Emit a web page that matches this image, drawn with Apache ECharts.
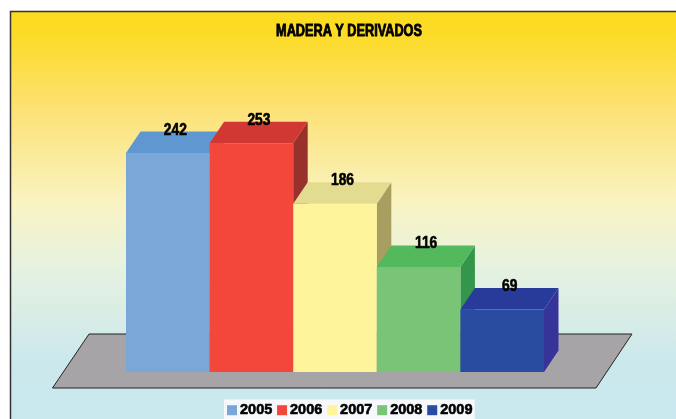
<!DOCTYPE html>
<html><head><meta charset="utf-8">
<style>html,body{margin:0;padding:0;background:#fff}#c{width:676px;height:419px}</style>
<script src="https://cdn.jsdelivr.net/npm/echarts@6/dist/echarts.min.js"></script>
</head><body><div id="c"></div>
<script>
const chartTitle = 'MADERA Y DERIVADOS';
const years = ['2005','2006','2007','2008','2009'];
const values = [242,253,186,116,69];
const frontColors = ['#7BA6D8','#F3473C','#FDF49B','#79C477','#2A4CA0'];
const topColors   = ['#5F98D1','#D13733','#E3DB90','#52BA5C','#283B9A'];
const sideColors  = ['#5F88B5','#98302B','#A89E60','#34964A','#363399'];
const FONT = '"Liberation Sans",Arial,sans-serif';
const DX = 14.5, DY = 21.5;

const chart = echarts.init(document.getElementById('c'), null, {renderer:'canvas'});

const series = years.map((y,i)=>({
  name:y, type:'custom', coordinateSystem:'cartesian2d',
  itemStyle:{color:frontColors[i]},
  encode:{x:0,y:1},
  data:[[y,values[i]]],
  z: 10 + i,
  renderItem(params,api){
    const p = api.coord([api.value(0),api.value(1)]);
    const b = api.coord([api.value(0),0]);
    const w = api.size([1,0])[0];
    const l = p[0]-w/2, r = p[0]+w/2, t = p[1], bt = b[1];
    return {type:'group',children:[
      {type:'polygon',shape:{points:[[r,t],[r+DX,t-DY],[r+DX,bt-DY],[r,bt]]},style:{fill:sideColors[i]}},
      {type:'polygon',shape:{points:[[l,t],[l+DX,t-DY],[r+DX,t-DY],[r,t]]},style:{fill:topColors[i]}},
      {type:'rect',shape:{x:l,y:t,width:w,height:bt-t},style:{fill:frontColors[i]}},
      {type:'text',x:p[0]+7.5,y:t-23,scaleX:0.86,style:{text:String(api.value(1)),x:0,y:0,align:'center',verticalAlign:'middle',
        font:'bold 16px '+FONT,fill:'#000',stroke:'#000',lineWidth:0.6}}
    ]};
  }
}));

chart.setOption({
  animation:false,
  backgroundColor:'#fff',
  grid:{left:126,right:132,top:12,bottom:47},
  xAxis:{type:'category',data:years,show:false},
  yAxis:{type:'value',min:0,max:398,show:false},
  legend:{data:years,bottom:0,left:224,itemWidth:10,itemHeight:10,itemGap:4.5,icon:'rect',
    padding:[3,2,1,3],backgroundColor:'#F6F8FC',
    textStyle:{fontFamily:FONT,fontWeight:'bold',fontSize:14.5,color:'#000',textBorderColor:'#000',textBorderWidth:0.6,padding:[0,0,0,-2]}},
  graphic:[
    {type:'rect',z:0,silent:true,shape:{x:10.5,y:11.5,width:670,height:412},
      style:{stroke:'#333',lineWidth:1.5,fill:{type:'linear',x:0,y:0,x2:0,y2:1,colorStops:[
        {offset:0,color:'#FBDC1E'},{offset:0.06,color:'#FCDB28'},{offset:0.25,color:'#FCE27A'},{offset:0.47,color:'#F9F4C4'},
        {offset:0.62,color:'#E6F2E0'},{offset:0.85,color:'#CBE8EC'},{offset:1,color:'#C9E8EF'}]}}},
    {type:'polygon',z:1,silent:true,shape:{points:[[52.5,388],[596,388],[632,334],[89,334]]},
      style:{fill:'#A6A4A7',stroke:'#222',lineWidth:1}},
    {type:'text',z:20,x:349,y:31.5,scaleX:0.77,silent:true,style:{text:chartTitle,x:0,y:0,align:'center',verticalAlign:'middle',
      font:'bold 16.5px '+FONT,fill:'#000',stroke:'#000',lineWidth:0.9}}
  ],
  series
});
</script></body></html>
